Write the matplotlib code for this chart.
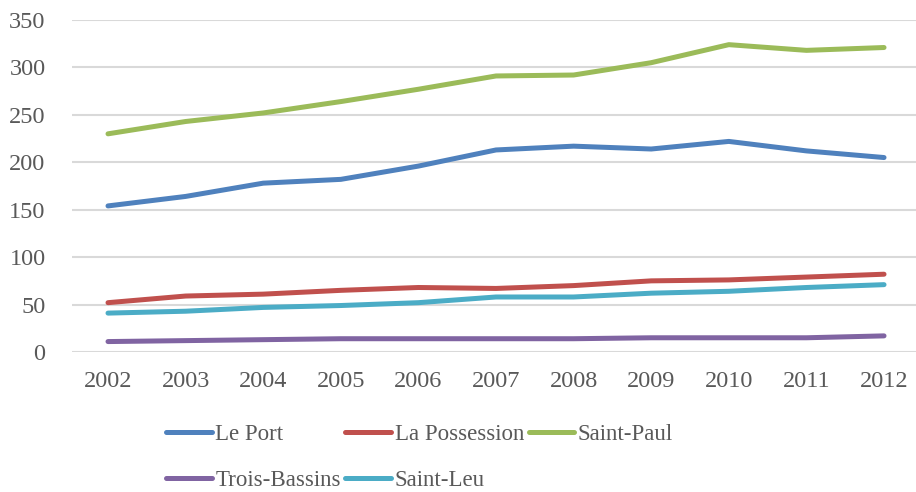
import matplotlib
matplotlib.use("Agg")
import matplotlib.pyplot as plt

years = [2002, 2003, 2004, 2005, 2006, 2007, 2008, 2009, 2010, 2011, 2012]

le_port = [154, 164, 178, 182, 196, 213, 217, 214, 222, 212, 205]
la_possession = [52, 59, 61, 65, 68, 67, 70, 75, 76, 79, 82]
saint_paul = [230, 243, 252, 264, 277, 291, 292, 305, 324, 318, 321]
trois_bassins = [11, 12, 13, 14, 14, 14, 14, 15, 15, 15, 17]
saint_leu = [41, 43, 47, 49, 52, 58, 58, 62, 64, 68, 71]

series = [
    ("Le Port", le_port, "#4F81BD"),
    ("La Possession", la_possession, "#C0504D"),
    ("Saint-Paul", saint_paul, "#9BBB59"),
    ("Trois-Bassins", trois_bassins, "#8064A2"),
    ("Saint-Leu", saint_leu, "#4BACC6"),
]

plt.rcParams["font.family"] = ["Liberation Serif", "DejaVu Serif"]
text_color = "#595959"
grid_color = "#D9D9D9"

fig = plt.figure(figsize=(9.16, 4.92), dpi=100)
ax = fig.add_axes([72 / 916, 1 - 352 / 492, 844 / 916, 332 / 492])

lines = {}
for name, values, color in series:
    (ln,) = ax.plot(years, values, color=color, linewidth=3.6,
                    solid_capstyle="round", solid_joinstyle="round", label=name)
    lines[name] = ln

ax.set_ylim(0, 350)
ax.set_xlim(2001.536, 2012.412)
ax.set_yticks(range(0, 351, 50))
ax.set_xticks(years)
ax.set_xticklabels([str(y) for y in years])
ax.yaxis.grid(True, color=grid_color, linewidth=1.5)
ax.set_axisbelow(True)
for s in ax.spines.values():
    s.set_visible(False)
ax.tick_params(axis="both", length=0, labelsize=17.5, labelcolor=text_color)
ax.tick_params(axis="y", pad=19)
ax.tick_params(axis="x", pad=14)

order = ["Le Port", "Trois-Bassins", "La Possession", "Saint-Leu", "Saint-Paul"]
leg = fig.legend([lines[n] for n in order], order, ncol=3,
                 loc="upper left", bbox_to_anchor=(166 / 916, 1 - 424 / 492),
                 frameon=False, fontsize=16.5, handlelength=2.0,
                 handletextpad=0.15, columnspacing=0.2, labelspacing=1.1,
                 borderaxespad=0, borderpad=0)
for t in leg.get_texts():
    t.set_color(text_color)

fig.savefig("out.png", dpi=100, facecolor="white")
